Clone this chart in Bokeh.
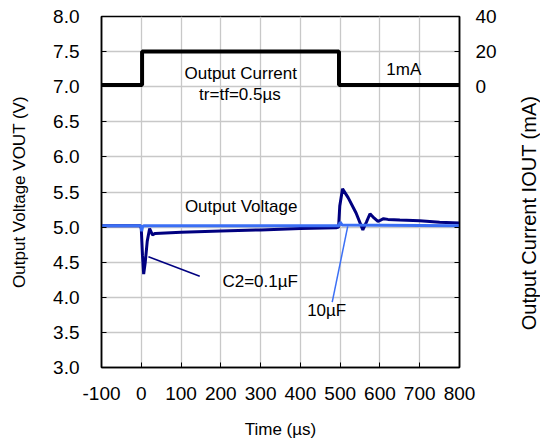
import math
from bokeh.plotting import figure
from bokeh.layouts import row
from bokeh.models import Range1d, LinearAxis, FixedTicker, Label
from bokeh.embed import file_html
from bokeh.resources import INLINE

# ---- data ----
cur_t = [-100, 2, 2, 497, 497, 800]
cur_ma = [1, 1, 20, 20, 1, 1]

c01_t = [-100, -2, 0, 3, 6, 10, 15, 21, 25, 28, 35, 100, 200, 300, 400, 490,
         496, 499, 506, 520, 540, 557, 566, 575, 585, 595, 609, 620, 650, 700, 750, 800]
c01_v = [5.02, 5.02, 4.98, 4.6, 4.33, 4.5, 4.8, 4.98, 4.93, 4.89, 4.91, 4.925, 4.945, 4.96, 4.98, 4.99,
         5.0, 5.3, 5.545, 5.42, 5.2, 4.96, 5.07, 5.19, 5.13, 5.08, 5.12, 5.11, 5.1, 5.09, 5.07, 5.06]

c10_t = [-100, -1, 1, 3, 6, 490, 497, 500, 505, 800]
c10_v = [5.02, 5.02, 4.94, 5.0, 5.02, 5.02, 5.02, 5.07, 5.03, 5.02]

x_ticks = [-100, 0, 100, 200, 300, 400, 500, 600, 700, 800]
v_ticks = [3.0, 3.5, 4.0, 4.5, 5.0, 5.5, 6.0, 6.5, 7.0, 7.5, 8.0]
i_ticks = [-160, -140, -120, -100, -80, -60, -40, -20, 0, 20, 40]
i_labels = ["", "", "", "", "", "", "", "", "0", "20", "40"]

FONT = "Liberation Sans"
H = 443

p = figure(width=508, height=H, x_range=Range1d(-100, 800), y_range=Range1d(3, 8),
           output_backend="svg", toolbar_location=None,
           min_border_left=101, min_border_right=49, min_border_top=16, min_border_bottom=76)
p.extra_y_ranges = {"cur": Range1d(-160, 40)}

p.outline_line_color = "black"
p.outline_line_width = 1.5
p.background_fill_color = "white"
p.border_fill_color = "white"

for g in (p.xgrid[0], p.ygrid[0]):
    g.grid_line_color = "#c8c8c8"
    g.grid_line_width = 1.3

xax = p.xaxis[0]
yax = p.yaxis[0]
xax.ticker = FixedTicker(ticks=x_ticks)
yax.ticker = FixedTicker(ticks=v_ticks)
p.xgrid.ticker = FixedTicker(ticks=x_ticks)
p.ygrid.ticker = FixedTicker(ticks=v_ticks)
yax.major_label_overrides = {v: f"{v:.1f}" for v in v_ticks}
xax.major_label_overrides = {float(t): str(t) for t in x_ticks}

right = LinearAxis(y_range_name="cur", ticker=FixedTicker(ticks=i_ticks),
                   major_label_overrides={float(t): l for t, l in zip(i_ticks, i_labels)})
p.add_layout(right, "right")

for ax in (xax, yax, right):
    ax.major_tick_in = 5
    ax.major_tick_out = 0
    ax.minor_tick_line_color = None
    ax.axis_line_color = "black"
    ax.axis_line_width = 1.5
    ax.major_tick_line_color = "black"
    ax.major_label_text_font = FONT
    ax.major_label_text_font_size = "19px"
    ax.major_label_text_color = "black"
    ax.axis_label_text_font = FONT
    ax.axis_label_text_font_size = "17px"
    ax.axis_label_text_font_style = "normal"
    ax.axis_label_text_color = "black"

xax.major_label_standoff = 19
yax.major_label_standoff = 22
right.major_label_standoff = 16
xax.axis_label = "Time (\u00b5s)"
xax.axis_label_standoff = 17
yax.axis_label = "Output Voltage VOUT (V)"
yax.axis_label_standoff = 21

# lines
p.line(cur_t, cur_ma, y_range_name="cur", line_color="black", line_width=4)
p.line(c01_t, c01_v, line_color="#000080", line_width=3)
p.line(c10_t, c10_v, line_color="#3B6FF5", line_width=3)

# leader lines
p.segment(x0=[18], y0=[4.577], x1=[147], y1=[4.30], line_color="#000080", line_width=1.5)
p.segment(x0=[480], y0=[3.93], x1=[519], y1=[5.01], line_color="#3B6FF5", line_width=1.5)

def lab(fig, x, y, text, align="center", size="17px", angle=0.0):
    fig.add_layout(Label(x=x, y=y, text=text, text_align=align, text_baseline="middle",
                         text_font=FONT, text_font_size=size, text_color="black", angle=angle))

lab(p, 250, 7.19, "Output Current")
lab(p, 248, 6.89, "tr=tf=0.5\u00b5s")
lab(p, 660, 7.245, "1mA")
lab(p, 251, 5.29, "Output Voltage")
lab(p, 204, 4.22, "C2=0.1\u00b5F", align="left")
lab(p, 417, 3.81, "10\u00b5F", align="left")

# narrow strip holding the right-hand axis title (reads bottom to top)
W2 = 32
p2 = figure(width=W2, height=H, x_range=Range1d(0, W2), y_range=Range1d(0, H),
            output_backend="svg", toolbar_location=None, min_border=0)
p2.outline_line_color = None
p2.axis.visible = False
p2.grid.visible = False
p2.border_fill_color = "white"
p2.background_fill_color = "white"
lab(p2, 20, 195, "Output Current IOUT (mA)", size="20px", angle=math.pi / 2)

layout = row(p, p2, spacing=0)
open("out.html", "w").write(file_html(layout, INLINE))
